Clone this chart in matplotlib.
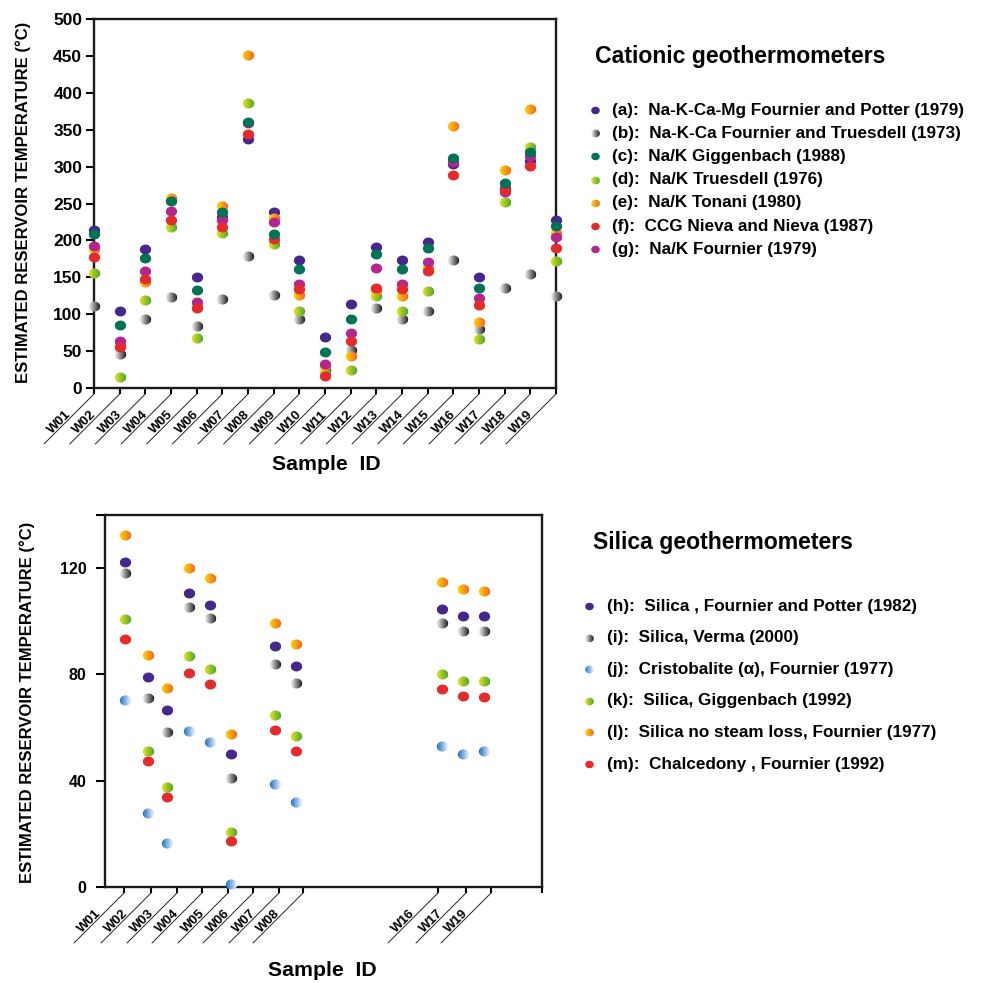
import matplotlib
matplotlib.use('Agg')
import numpy as np
import matplotlib.pyplot as plt
from matplotlib.lines import Line2D
from matplotlib.path import Path
from matplotlib.colors import to_rgb
from matplotlib.transforms import offset_copy

plt.rcParams['font.family'] = ['Liberation Sans', 'DejaVu Sans']
plt.rcParams['font.weight'] = 'bold'

# ---------------- data: cationic geothermometers ----------------
samples = ['W01', 'W02', 'W03', 'W04', 'W05', 'W06', 'W07', 'W08', 'W09', 'W10',
           'W11', 'W12', 'W13', 'W14', 'W15', 'W16', 'W17', 'W18', 'W19']
cat_a = [214, 105, 188, 255, 150, 232, 337, 239, 174, 69, 114, 191, 174, 198, 303, 150, 271, 308, 227]
cat_b = [111, 46, 93, 123, 84, 120, 179, 126, 94, 25, 52, 108, 94, 105, 174, 80, 135, 154, 125]
cat_c = [208, 85, 176, 253, 133, 238, 361, 209, 161, 49, 94, 182, 161, 190, 311, 136, 278, 320, 219]
cat_d = [156, 15, 119, 218, 68, 210, 386, 195, 104, 20, 24, 125, 104, 132, 309, 66, 252, 327, 172]
cat_e = [188, 58, 143, 258, 110, 247, 451, 231, 126, 30, 43, 133, 125, 162, 355, 89, 295, 378, 210]
cat_f = [177, 55, 148, 227, 108, 218, 344, 202, 134, 16, 64, 135, 134, 159, 289, 113, 268, 301, 190]
cat_g = [192, 64, 159, 240, 116, 228, 359, 225, 141, 32, 74, 162, 141, 171, 306, 122, 265, 314, 204]
cat_labels = ['(a):  Na-K-Ca-Mg Fournier and Potter (1979)',
              '(b):  Na-K-Ca Fournier and Truesdell (1973)',
              '(c):  Na/K Giggenbach (1988)',
              '(d):  Na/K Truesdell (1976)',
              '(e):  Na/K Tonani (1980)',
              '(f):  CCG Nieva and Nieva (1987)',
              '(g):  Na/K Fournier (1979)']

# ---------------- data: silica geothermometers ----------------
silica_samples = ['W01', 'W02', 'W03', 'W04', 'W05', 'W06', 'W07', 'W08', 'W16', 'W17', 'W19']
silica_ticklabels = ['W01', 'W02', 'W03', 'W04', 'W05', 'W06', 'W07', 'W08', 'W16', 'W17', 'W19']
sil_h = [122.3, 79.2, 66.6, 110.7, 106.0, 49.9, 90.8, 83.3, 104.5, 101.9, 101.9]
sil_i = [118.1, 71.3, 58.2, 105.5, 101.3, 41.1, 83.8, 76.6, 99.2, 96.3, 96.3]
sil_j = [70.2, 27.9, 16.4, 58.7, 54.6, 1.3, 38.8, 32.0, 53.2, 50.2, 51.1]
sil_k = [100.8, 51.2, 37.8, 87.1, 82.1, 20.7, 64.7, 56.7, 80.0, 77.5, 77.5]
sil_l = [132.5, 87.5, 74.9, 120.1, 116.3, 57.5, 99.5, 91.6, 114.8, 112.1, 111.3]
sil_m = [93.3, 47.4, 34.0, 80.7, 76.3, 17.5, 59.2, 51.2, 74.6, 71.9, 71.6]
sil_labels = ['(h):  Silica , Fournier and Potter (1982)',
              '(i):  Silica, Verma (2000)',
              '(j):  Cristobalite (\u03b1), Fournier (1977)',
              '(k):  Silica, Giggenbach (1992)',
              '(l):  Silica no steam loss, Fournier (1977)',
              '(m):  Chalcedony , Fournier (1992)']

# ---------------- styles / layout ----------------
PURPLE = ('#46288c', '#46288c')
GRAY = ('#f4f4f4', '#1c1c1c')
TEAL = ('#007256', '#007256')
GREEN = ('#e2e41c', '#4aa52f')
ORANGE = ('#ffd400', '#f26522')
RED = ('#e42a2a', '#e42a2a')
MAGENTA = ('#b3268f', '#b3268f')
BLUE = ('#1a6cc2', '#f4f8fd')

# silica layout (axis units: pixels from the left spine)
sil_dot_pos = [20, 43, 62, 84, 105, 126, 170, 191, 337, 358, 379]
sil_tick_pos = [19, 46, 72, 97, 123, 148, 174, 198, 333, 361, 386, 437]

W, H = 1005, 983
fig = plt.figure(figsize=(W / 100, H / 100), dpi=100)


def fx(px):
    return px / W


def fy(py):
    return 1 - py / H


def strip_path(x0, x1, ry=0.87, n=30):
    xx = np.linspace(x0, x1, n)
    top = np.sqrt(np.clip(1 - xx ** 2, 0, None)) * ry
    pts = list(zip(xx, top)) + list(zip(xx[::-1], -top[::-1]))
    verts = [(1.0, 0.0)] + pts + [pts[0]]
    codes = [Path.MOVETO, Path.MOVETO] + [Path.LINETO] * (len(pts) - 1) + [Path.CLOSEPOLY]
    return Path(verts, codes)


NSTRIP = 8
EDGES = np.linspace(-1, 1, NSTRIP + 1)
STRIPS = [strip_path(EDGES[k], min(1.0, EDGES[k + 1] + 0.1)) for k in range(NSTRIP)]
FULL = strip_path(-1, 1)


def grad_colors(col):
    c0, c1 = np.array(to_rgb(col[0])), np.array(to_rgb(col[1]))
    t = (np.arange(NSTRIP) + 0.5) / NSTRIP
    return [tuple(c0 + (c1 - c0) * tt) for tt in t]


def dots(ax, x, y, col, ms=8.2):
    if col[0] == col[1]:
        ax.plot(x, y, ls='none', marker=FULL, ms=ms, mfc=col[0], mew=0,
                clip_on=False, zorder=3)
    else:
        for p, c in zip(STRIPS, grad_colors(col)):
            ax.plot(x, y, ls='none', marker=p, ms=ms, mfc=c, mew=0,
                    clip_on=False, zorder=3)


def slanted(ax, positions, labels, fs=9.5):
    tr = ax.get_xaxis_transform()
    start = offset_copy(tr, fig=fig, x=0, y=-6, units='dots')
    for x, lab in zip(positions, labels):
        ax.annotate('', xy=(x, 0), xycoords=start, xytext=(-50, -50),
                    textcoords='offset pixels', annotation_clip=False,
                    arrowprops=dict(arrowstyle='-', lw=0.7, color='#222222',
                                    shrinkA=0, shrinkB=0))
        ax.annotate(lab, xy=(x, 0), xycoords=tr, xytext=(-21, -29),
                    textcoords='offset pixels', rotation=45,
                    rotation_mode='anchor', ha='right', va='bottom',
                    fontsize=fs, fontweight='bold', annotation_clip=False)


def style_axes(ax, ysize, ylen=5.5, ypad=3):
    for s in ax.spines.values():
        s.set_linewidth(1.7)
        s.set_color('#1a1a1a')
    ax.tick_params(axis='y', length=ylen, width=1.5, labelsize=ysize, pad=ypad)
    ax.tick_params(axis='x', length=4.5, width=1.5, labelbottom=False)
    for t in ax.get_yticklabels():
        t.set_fontweight('bold')


# ---------------- top chart ----------------
ax1 = fig.add_axes([fx(94), fy(388), fx(556 - 94), (388 - 19) / H])
xs = list(range(len(samples)))
for vals, col in [(cat_a, PURPLE), (cat_b, GRAY), (cat_d, GREEN), (cat_e, ORANGE),
                  (cat_g, MAGENTA), (cat_f, RED), (cat_c, TEAL)]:
    dots(ax1, xs, vals, col)
ax1.set_xlim(0, len(samples) - 1)
ax1.set_ylim(0, 500)
ax1.set_yticks(range(0, 501, 50))
ax1.set_xticks(xs)
style_axes(ax1, 12.5)
slanted(ax1, xs, samples)
fig.text(fx(23), fy(202), 'ESTIMATED RESERVOIR TEMPERATURE (\u00b0C)', rotation=90,
         ha='center', va='center', fontsize=12, fontweight='bold')
fig.text(fx(326), fy(464), 'Sample  ID', ha='center', va='center',
         fontsize=15.3, fontweight='bold')

# ---------------- bottom chart ----------------
ax2 = fig.add_axes([fx(105), fy(887), fx(542 - 105), (887 - 515) / H])
for vals, col in [(sil_h, PURPLE), (sil_i, GRAY), (sil_j, BLUE), (sil_k, GREEN),
                  (sil_l, ORANGE), (sil_m, RED)]:
    dots(ax2, sil_dot_pos, vals, col)
ax2.set_xlim(0, 437)
ax2.set_ylim(0, 140)
ax2.set_yticks([0, 40, 80, 120, 140])
ax2.set_yticklabels(['0', '40', '80', '120', ''])
ax2.set_xticks(sil_tick_pos)
style_axes(ax2, 11.5, ylen=6.5, ypad=7)
slanted(ax2, sil_tick_pos[:len(silica_ticklabels)], silica_ticklabels)
fig.text(fx(27), fy(702), 'ESTIMATED RESERVOIR TEMPERATURE (\u00b0C)', rotation=90,
         ha='center', va='center', fontsize=12, fontweight='bold')
fig.text(fx(322), fy(970), 'Sample  ID', ha='center', va='center',
         fontsize=15.3, fontweight='bold')


# ---------------- legends ----------------
def legend_block(title, tx, ty, mx, lx, y0, dy, labels, cols, fs):
    fig.text(fx(tx), fy(ty), title, ha='left', va='center', fontsize=16.6,
             fontweight='bold')
    for k, (lab, col) in enumerate(zip(labels, cols)):
        yy = y0 + k * dy
        if col[0] == col[1]:
            paths, colors = [FULL], [col[0]]
        else:
            paths, colors = STRIPS, grad_colors(col)
        for p, c in zip(paths, colors):
            fig.add_artist(Line2D([fx(mx)], [fy(yy)], transform=fig.transFigure,
                                  ls='none', marker=p, ms=6.2, mfc=c, mew=0))
        fig.text(fx(lx), fy(yy), lab, ha='left', va='center', fontsize=fs,
                 fontweight='bold')


legend_block('Cationic geothermometers', 595, 56, 595, 612, 110, 23.2, cat_labels,
             [PURPLE, GRAY, TEAL, GREEN, ORANGE, RED, MAGENTA], 12.3)
legend_block('Silica geothermometers', 593, 543, 589, 607, 606, 31.6, sil_labels,
             [PURPLE, GRAY, BLUE, GREEN, ORANGE, RED], 12.3)

fig.savefig('out.png', dpi=100, facecolor='white')
